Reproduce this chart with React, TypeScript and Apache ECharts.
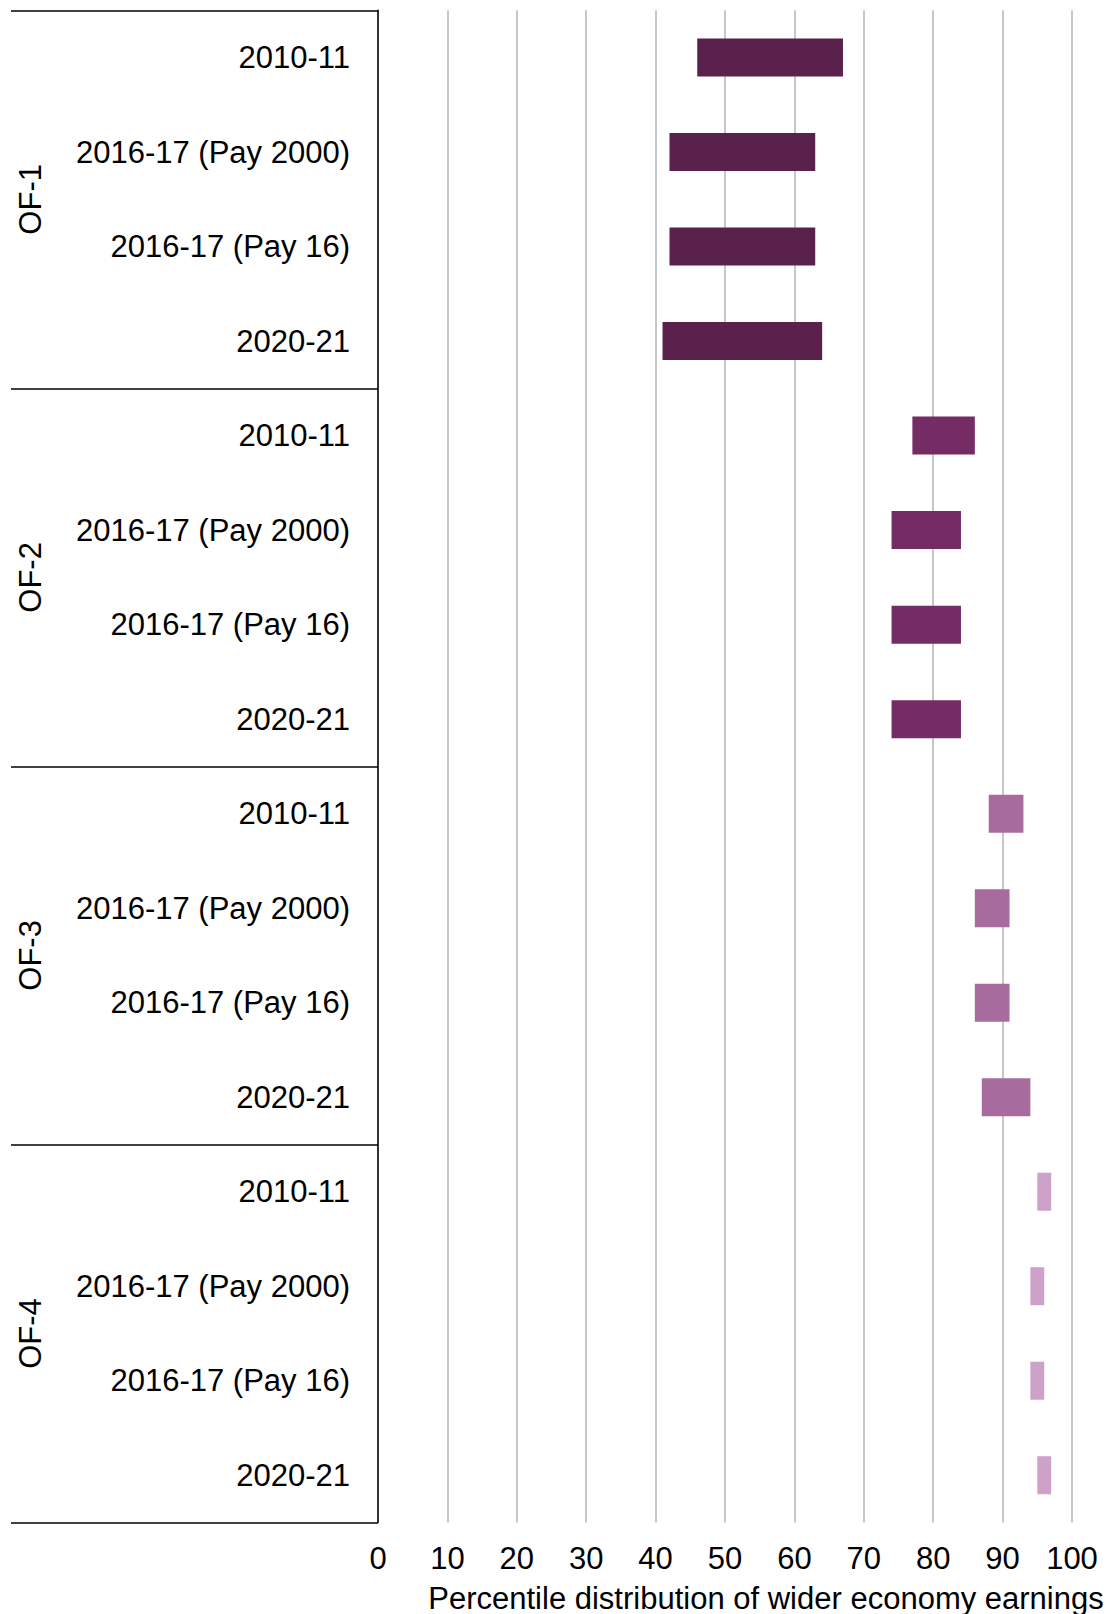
import React, { useEffect, useRef } from "react";
import * as echarts from "echarts";

const groups = ["OF-1", "OF-2", "OF-3", "OF-4"];
const periods = ["2010-11", "2016-17 (Pay 2000)", "2016-17 (Pay 16)", "2020-21"];
const groupColors = ["#5a214d", "#752b63", "#a76c9d", "#cda1c8"];

const lowOF1 = [46, 42, 42, 41];
const highOF1 = [67, 63, 63, 64];
const lowOF2 = [77, 74, 74, 74];
const highOF2 = [86, 84, 84, 84];
const lowOF3 = [88, 86, 86, 87];
const highOF3 = [93, 91, 91, 94];
const lowOF4 = [95, 94, 94, 95];
const highOF4 = [97, 96, 96, 97];

const xMin = 0;
const xMax = 100;
const xInterval = 10;
const axisTitle = "Percentile distribution of wider economy earnings";

const FONT = "Arial, 'Liberation Sans', sans-serif";

export default function App() {
  const ref = useRef<HTMLDivElement>(null);
  useEffect(() => {
    if (!ref.current) return;
    const chart = echarts.init(ref.current, undefined, { renderer: "svg" });
    const lows = [lowOF1, lowOF2, lowOF3, lowOF4];
    const highs = [highOF1, highOF2, highOF3, highOF4];
    const categories: string[] = [];
    const baseData: number[] = [];
    const rangeData: any[] = [];
    groups.forEach((g, gi) => {
      periods.forEach((p, pi) => {
        categories.push(p);
        baseData.push(lows[gi][pi]);
        rangeData.push({
          value: highs[gi][pi] - lows[gi][pi],
          itemStyle: { color: groupColors[gi] },
        });
      });
    });

    chart.setOption({
      animation: false,
      grid: {
        left: 378,
        right: 40,
        top: 10.3,
        bottom: 91.5,
        containLabel: false,
        outerBoundsMode: "none",
      },
      xAxis: {
        type: "value",
        min: xMin,
        max: xMax,
        interval: xInterval,
        axisLine: { show: false },
        axisTick: { show: false },
        splitLine: { show: true, lineStyle: { color: "#b4b4b4", width: 1.5 } },
        axisLabel: { fontSize: 31, color: "#000", fontFamily: FONT, margin: 20 },
        name: axisTitle,
        nameLocation: "middle",
        nameGap: 60,
        nameTextStyle: {
          fontSize: 31,
          color: "#000",
          fontFamily: FONT,
          padding: [0, 0, 0, 82],
        },
      },
      yAxis: [
        {
          type: "category",
          data: categories,
          inverse: true,
          position: "left",
          axisLine: { show: true, lineStyle: { color: "#000", width: 1.5 } },
          axisTick: { show: false },
          splitLine: { show: false },
          axisLabel: {
            interval: 0,
            fontSize: 31,
            color: "#000",
            fontFamily: FONT,
            margin: 28,
          },
        },
        {
          type: "category",
          data: groups,
          inverse: true,
          position: "left",
          offset: 0,
          axisLine: { show: false },
          axisTick: {
            show: true,
            length: 367,
            lineStyle: { color: "#000", width: 1.5 },
          },
          splitLine: { show: false },
          axisLabel: {
            interval: 0,
            rotate: 90,
            fontSize: 31,
            color: "#000",
            fontFamily: FONT,
            margin: 332,
          },
        },
      ],
      series: [
        {
          type: "bar",
          stack: "range",
          yAxisIndex: 0,
          data: baseData,
          barWidth: 38,
          itemStyle: { color: "transparent" },
          silent: true,
        },
        {
          type: "bar",
          stack: "range",
          yAxisIndex: 0,
          data: rangeData,
          barWidth: 38,
        },
      ],
    });
    return () => chart.dispose();
  }, []);
  return (
    <div
      ref={ref}
      style={{ position: "fixed", left: 0, top: 0, width: 1112, height: 1614, background: "#fff" }}
    />
  );
}
